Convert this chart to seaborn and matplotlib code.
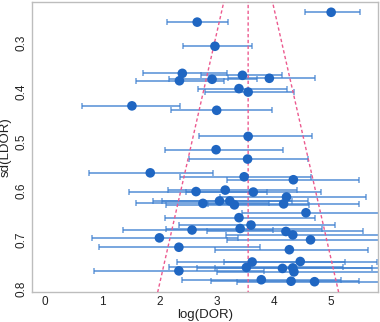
import numpy as np
import pandas as pd
import seaborn as sns
import matplotlib
matplotlib.use("Agg")
import matplotlib.pyplot as plt

# study estimates
log_dor = [5.00, 2.66, 2.97, 2.40, 2.35, 2.92, 3.45, 3.92, 3.39, 3.55, 1.52, 3.00,
           3.55, 2.99, 3.54, 1.84, 3.48, 4.34, 2.64, 3.15, 3.64, 2.76, 3.05, 3.23,
           3.31, 4.22, 4.17, 4.56, 3.39, 3.60, 3.41, 2.57, 4.21, 4.33, 4.64, 2.00,
           2.34, 4.27, 3.62, 4.46, 3.52, 4.15, 4.33, 4.35, 2.34, 3.78, 4.30, 4.71]
sd_ldor = [0.238, 0.258, 0.307, 0.362, 0.377, 0.374, 0.366, 0.372, 0.393, 0.400, 0.428, 0.437,
           0.490, 0.517, 0.536, 0.564, 0.572, 0.578, 0.602, 0.599, 0.603, 0.626, 0.621, 0.621,
           0.629, 0.613, 0.627, 0.645, 0.655, 0.670, 0.677, 0.680, 0.683, 0.690, 0.700, 0.696,
           0.715, 0.720, 0.745, 0.744, 0.756, 0.758, 0.757, 0.765, 0.763, 0.781, 0.784, 0.785]
ci_low = [4.55, 2.13, 2.41, 1.71, 1.59, 2.17, 2.72, 3.20, 2.68, 2.79, 0.64, 2.20,
          2.69, 2.09, 2.52, 0.77, 2.36, 3.18, 1.47, 2.15, 2.46, 1.59, 1.89, 2.04,
          2.12, 3.06, 2.85, 3.44, 2.09, 2.35, 2.12, 1.37, 2.83, 3.16, 3.18, 0.82,
          0.94, 2.97, 2.31, 3.13, 2.17, 2.66, 2.97, 3.00, 0.86, 2.39, 2.90, 3.35]
ci_high = [5.51, 3.19, 3.62, 3.18, 3.12, 3.70, 4.14, 4.71, 4.23, 4.35, 2.36, 3.96,
           4.67, 4.16, 4.59, 2.94, 4.65, 5.48, 3.88, 4.40, 4.83, 3.92, 4.32, 4.59,
           4.62, 5.61, 5.48, 5.95, 4.71, 5.07, 4.84, 3.98, 5.55, 5.90, 6.10, 3.38,
           3.75, 5.65, 5.24, 5.80, 5.20, 5.71, 5.95, 5.95, 3.82, 5.17, 5.49, 6.05]

pooled = 3.55
funnel_sd = [0.21, 0.81]
x_ticks = [0, 1, 2, 3, 4, 5]
y_ticks = [0.3, 0.4, 0.5, 0.6, 0.7, 0.8]

df = pd.DataFrame({"log_dor": log_dor, "sd": sd_ldor, "lo": ci_low, "hi": ci_high})

sns.set_theme(style="white")
plt.rcParams["font.family"] = ["Liberation Sans", "DejaVu Sans"]

fig = plt.figure(figsize=(3.8, 3.22), dpi=100)
ax = fig.add_axes([0.084, 0.093, 0.911, 0.901])

# confidence intervals
ax.errorbar(df["log_dor"], df["sd"],
            xerr=[df["log_dor"] - df["lo"], df["hi"] - df["log_dor"]],
            fmt="none", ecolor="#3d7fd0", alpha=0.75, elinewidth=1.3,
            capsize=2.3, capthick=1.1, zorder=2)

# funnel
fs = np.array(funnel_sd)
funnel = pd.DataFrame({
    "x": np.concatenate([pooled - 1.96 * fs, [np.nan], pooled + 1.96 * fs, [np.nan], [pooled, pooled]]),
    "y": np.concatenate([fs, [np.nan], fs, [np.nan], fs]),
})
ax.plot(funnel["x"], funnel["y"], color="#ec5a8f", lw=1.0, ls=(0, (2.4, 1.8)), zorder=3)

sns.scatterplot(data=df, x="log_dor", y="sd", ax=ax, s=48, color="#1f66c2",
                edgecolor="none", zorder=4, legend=False)

ax.set_xlim(-0.227, 5.82)
ax.set_ylim(0.806, 0.217)
ax.set_xticks(x_ticks)
ax.set_yticks(y_ticks)
ax.set_yticklabels([f"{v:.1f}" for v in y_ticks], rotation=90, va="center")
ax.tick_params(length=0, labelsize=8.5, colors="#222222", pad=3)
ax.set_xlabel("log(DOR)", fontsize=9.5, color="#222222", labelpad=0.5)
ax.set_ylabel("sd(LDOR)", fontsize=9.5, color="#222222", labelpad=3)
for sp in ax.spines.values():
    sp.set_color("#bdbdbd")
    sp.set_linewidth(1.0)

fig.savefig("out.png", dpi=100)
